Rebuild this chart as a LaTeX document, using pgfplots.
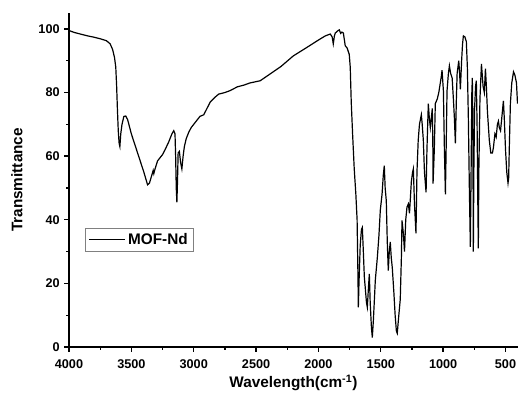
\documentclass[border=0pt]{standalone}
\usepackage{pgfplots}
\pgfplotsset{compat=1.18}
\usepackage{fontspec}
\setmainfont{Liberation Sans}
\begin{document}
\begin{tikzpicture}
\begin{axis}[
  scale only axis,
  width=336.75pt, height=250.5pt,
  xmin=400, xmax=4000, ymin=0, ymax=105,
  x dir=reverse,
  axis x line*=bottom, axis y line*=left,
  axis line style={line width=1.1pt},
  xtick={500,1000,...,4000}, ytick={0,20,...,100},
  minor x tick num=1, minor y tick num=1,
  tick align=outside,
  major tick length=3.5pt, minor tick length=2.2pt,
  tick style={line width=1pt, black},
  /pgf/number format/assume math mode=true,
  /pgf/number format/set thousands separator={},
  ticklabel style={font=\fontsize{9.5}{11}\selectfont\bfseries},
  xticklabel style={yshift=-2.5pt},
  xlabel={Wavelength(cm\textsuperscript{-1})},
  ylabel={Transmittance},
  label style={font=\fontsize{11.5}{13}\selectfont\bfseries},
  xlabel style={at={(axis description cs:0.5,0)}, anchor=center, yshift=-27pt},
  ylabel style={at={(axis description cs:-0.116,0.5)}, anchor=center},
  legend style={at={(axis description cs:0.036,0.356)}, anchor=north west,
    draw=gray, line width=0.6pt, font=\fontsize{11.5}{13}\selectfont\bfseries,
    inner xsep=2pt, inner ysep=1.5pt},
  legend image code/.code={\draw[#1] (0pt,0pt) -- (27pt,0pt);},
]
\addplot[black, line width=0.9pt] coordinates {
(4000,99.5) (3980,99.2) (3950,98.8) (3900,98.3) (3850,97.8) (3800,97.4)
(3750,96.9) (3700,96.3) (3670,95.3) (3650,93.5) (3635,91) (3625,88)
(3618,82) (3612,75) (3605,68) (3598,64) (3592,63) (3585,67) (3575,70)
(3560,72.5) (3545,72.6) (3530,71.5) (3500,67) (3450,61) (3400,55)
(3370,51) (3355,51.5) (3340,53.5) (3325,55.5) (3320,54.5) (3310,56)
(3290,58.5) (3270,59.5) (3250,60.5) (3230,62) (3200,64.5) (3175,67)
(3160,68) (3150,67) (3145,60) (3140,50) (3135,45.5) (3130,52) (3125,61)
(3115,61.5) (3105,58) (3095,56) (3085,60) (3075,63) (3060,65.5)
(3040,67.5) (3020,69) (3000,70) (2970,71.5) (2950,72.5) (2920,73)
(2900,74.5) (2868,77) (2830,78.5) (2800,79.5) (2750,80) (2708,80.6)
(2650,81.8) (2600,82.3) (2550,83) (2467,83.7) (2400,85.5) (2300,88.2)
(2202,91.5) (2100,94) (2000,96.5) (1945,97.8) (1905,98.4) (1890,97.5)
(1881,95.3) (1872,97.8) (1865,98.7) (1845,99.4) (1833,99.7) (1822,98.6)
(1812,99) (1800,98.7) (1790,96) (1785,94.7) (1770,94) (1753,92)
(1745,88) (1737,77) (1725,66) (1713,56) (1700,48) (1690,40) (1683,22)
(1680,12.5) (1675,20) (1665,32) (1655,37) (1648,37.6) (1640,30)
(1632,22) (1625,18.8) (1615,14) (1608,12.5) (1600,18) (1592,23)
(1585,14) (1575,6) (1568,3) (1560,8) (1550,16) (1544,21) (1528,28)
(1515,35) (1504,43) (1490,48) (1480,54) (1472,57) (1465,50) (1456,46)
(1448,33) (1440,24) (1432,30) (1424,33) (1416,28) (1408,25) (1395,17)
(1385,10) (1375,5) (1368,4.3) (1360,8) (1344,15) (1335,28) (1330,39.8)
(1319,35.7) (1310,30) (1300,40) (1290,44) (1279,45) (1270,42) (1255,52)
(1245,55) (1239,56) (1230,45) (1218,35.7) (1210,55) (1200,65) (1190,70)
(1175,73) (1168,70) (1159,65) (1150,55) (1137,48.6) (1130,62)
(1124,70) (1119,76.5) (1111,72) (1103,69) (1095,72) (1087,75) (1083,65)
(1081,51.4) (1071,62) (1063,76.5) (1047,78) (1035,80) (1023,83)
(1015,85) (1009,87) (998,80.5) (990,62) (982,48) (975,65) (969,80.5)
(958,86) (950,88.4) (940,86) (928,84.6) (918,78) (910,72)
(902,64) (894,78) (888,86) (875,90) (868,86) (862,81) (852,90)
(845,95) (838,97.8) (826,97.5) (814,96) (806,88) (798,72) (790,50)
(782,31.5) (776,55) (770,80) (766,84.6) (762,70) (758,30) (754,55)
(748,75) (740,82) (734,83.7) (728,70) (722,45) (718,31) (714,55)
(705,78) (693,89) (680,82) (670,80) (661,87.5) (653,81.5) (645,74)
(630,65) (618,61) (605,61) (597,62.7) (585,67) (575,66) (565,70)
(557,71) (550,69) (540,68) (530,72) (517,77.4) (510,72) (500,62)
(490,55) (480,51.5) (475,53) (470,62) (461,76.5) (450,83) (436,86.5)
(425,85.5) (412,83) (404,76.5)
};
\addlegendentry{MOF-Nd}
\end{axis}
\pgfresetboundingbox
\path[use as bounding box] (-51.75pt,-40.5pt) rectangle (339pt,260.25pt);
\end{tikzpicture}
\end{document}
